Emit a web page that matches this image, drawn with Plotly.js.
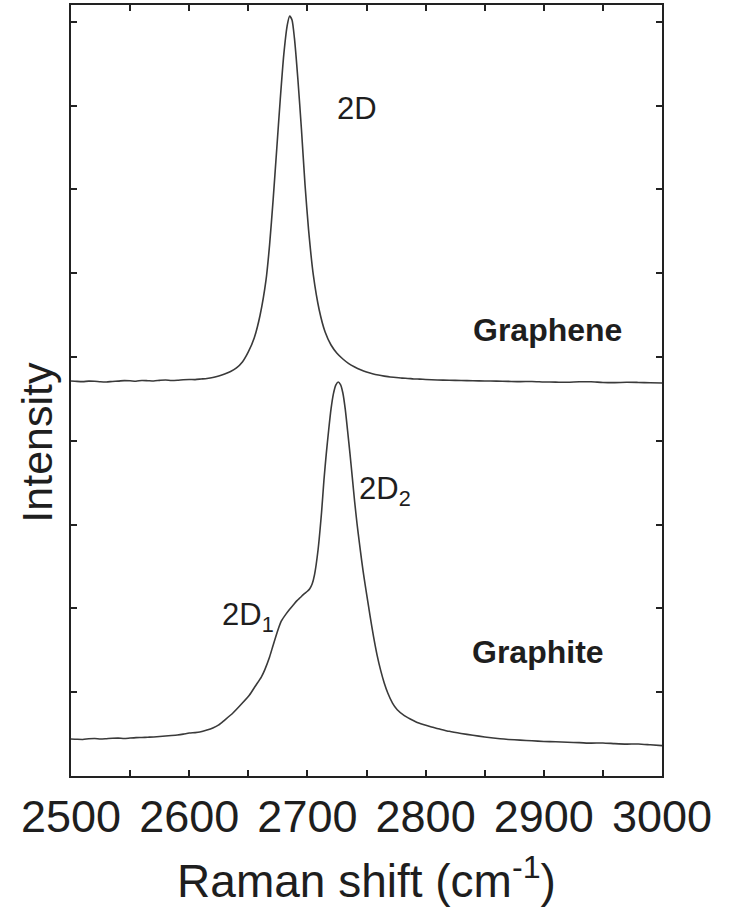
<!DOCTYPE html>
<html>
<head>
<meta charset="utf-8">
<script src="https://cdn.plot.ly/plotly-3.0.1.min.js"></script>
<style>html,body{margin:0;padding:0;background:#fff;}</style>
</head>
<body>
<div id="chart" style="width:729px;height:910px;"></div>
<script>
// Raman shift (cm^-1) and intensity (arbitrary units)
const grapheneX = [2500,2505,2510,2515,2520,2525,2530,2535,2540,2545,2550,2555,2560,2565,2570,2575,2580,2585,2590,2595,2600,2605,2610,2615,2620,2625,2630,2635,2640,2645,2650,2655,2660,2665,2668,2671,2674,2677,2680,2683,2685,2687,2689,2692,2695,2698,2701,2705,2710,2715,2720,2725,2730,2735,2740,2745,2750,2755,2760,2765,2770,2775,2780,2785,2790,2795,2800,2810,2820,2830,2840,2850,2860,2870,2880,2890,2900,2910,2920,2930,2940,2950,2960,2970,2980,2990,3000];
const grapheneY = [4.714,4.709,4.706,4.712,4.710,4.704,4.702,4.708,4.712,4.718,4.716,4.711,4.720,4.717,4.714,4.721,4.726,4.719,4.722,4.728,4.732,4.730,4.737,4.744,4.755,4.772,4.797,4.826,4.869,4.940,5.060,5.227,5.501,5.919,6.337,6.874,7.470,8.067,8.604,8.962,9.069,9.021,8.807,8.305,7.709,7.053,6.516,5.979,5.561,5.298,5.143,5.045,4.976,4.921,4.881,4.848,4.821,4.801,4.785,4.772,4.761,4.756,4.748,4.744,4.738,4.736,4.732,4.726,4.722,4.719,4.716,4.713,4.712,4.709,4.706,4.708,4.702,4.700,4.698,4.704,4.704,4.696,4.694,4.698,4.696,4.693,4.690];

const graphiteX = [2500,2505,2510,2515,2520,2525,2530,2535,2540,2545,2550,2555,2560,2565,2570,2575,2580,2585,2590,2595,2600,2605,2609,2615,2620,2625,2630,2637,2645,2651,2656,2661,2664,2668,2671,2675,2678,2682,2685,2688,2691,2694,2697,2700,2702,2704,2706,2709,2712,2714,2716,2718,2720,2722,2724,2726,2728,2730,2732,2734,2736,2738,2740,2742,2744,2746,2748,2750,2753,2756,2759,2762,2765,2768,2772,2776,2782,2787,2792,2798,2805,2812,2820,2830,2840,2850,2863,2870,2880,2890,2900,2910,2920,2930,2940,2950,2960,2970,2980,2990,3000];
const graphiteY = [0.442,0.438,0.436,0.444,0.448,0.441,0.445,0.450,0.452,0.447,0.453,0.458,0.460,0.463,0.466,0.471,0.477,0.483,0.490,0.500,0.513,0.518,0.525,0.548,0.573,0.610,0.668,0.752,0.871,0.967,1.074,1.181,1.270,1.420,1.560,1.740,1.850,1.935,1.990,2.040,2.090,2.130,2.170,2.205,2.235,2.290,2.400,2.697,3.150,3.532,3.850,4.129,4.380,4.560,4.665,4.702,4.670,4.570,4.380,4.120,3.850,3.560,3.270,3.010,2.780,2.560,2.360,2.180,1.910,1.660,1.440,1.260,1.110,0.990,0.870,0.790,0.720,0.680,0.645,0.615,0.585,0.560,0.533,0.508,0.486,0.466,0.444,0.436,0.428,0.420,0.412,0.408,0.402,0.398,0.392,0.394,0.386,0.380,0.382,0.372,0.362];

const xTickVals = [2500,2600,2700,2800,2900,3000];
const xTickText = ['2500','2600','2700','2800','2900','3000'];

const labelFont = 'Liberation Sans, Arial, sans-serif';
const ink = '#1e1e1e';

const traces = [
  {x: grapheneX, y: grapheneY, type: 'scatter', mode: 'lines', name: 'Graphene',
   line: {color: '#3a3a3a', width: 1.6, shape: 'spline', smoothing: 0.6}, hoverinfo: 'x+y'},
  {x: graphiteX, y: graphiteY, type: 'scatter', mode: 'lines', name: 'Graphite',
   line: {color: '#3a3a3a', width: 1.6, shape: 'spline', smoothing: 0.6}, hoverinfo: 'x+y'}
];

const layout = {
  width: 729, height: 910,
  margin: {l: 71, r: 67, t: 5, b: 134},
  paper_bgcolor: '#ffffff', plot_bgcolor: '#ffffff',
  showlegend: false,
  font: {family: labelFont, color: ink},
  xaxis: {
    range: [2500, 3000], showgrid: false, zeroline: false,
    showline: true, linecolor: '#222', linewidth: 2, mirror: 'ticks',
    ticks: 'inside', ticklen: 6, tickwidth: 2, tickcolor: '#222',
    tickmode: 'array', tickvals: xTickVals, ticktext: xTickText,
    minor: {dtick: 50, tick0: 2500, ticks: 'inside', ticklen: 6, tickwidth: 2, tickcolor: '#222', showgrid: false},
    tickfont: {size: 45, family: labelFont, color: ink},
    title: {text: 'Raman shift (cm<sup>-1</sup>)', font: {size: 46, family: labelFont, color: ink}, standoff: 24}
  },
  yaxis: {
    range: [0, 9.2], showgrid: false, zeroline: false,
    showline: true, linecolor: '#222', linewidth: 2, mirror: 'ticks',
    ticks: 'inside', ticklen: 6, tickwidth: 2, tickcolor: '#222',
    dtick: 1, tick0: 0, showticklabels: false
  },
  annotations: [
    {xref: 'paper', yref: 'paper', x: -0.0567, y: 0.433, xanchor: 'center', yanchor: 'middle',
     textangle: -90, text: 'Intensity', showarrow: false, font: {size: 43, family: labelFont, color: ink}},
    {x: 2742, y: 7.96, text: '2D', showarrow: false, font: {size: 31, family: labelFont, color: ink}},
    {x: 2903, y: 5.32, text: '<b>Graphene</b>', showarrow: false, font: {size: 32, family: labelFont, color: ink}},
    {x: 2766, y: 3.40, text: '2D<sub>2</sub>', showarrow: false, font: {size: 31, family: labelFont, color: ink}},
    {x: 2650, y: 1.90, text: '2D<sub>1</sub>', showarrow: false, font: {size: 31, family: labelFont, color: ink}},
    {x: 2895, y: 1.48, text: '<b>Graphite</b>', showarrow: false, font: {size: 32, family: labelFont, color: ink}}
  ]
};

Plotly.newPlot('chart', traces, layout, {displayModeBar: false, staticPlot: true});
</script>
</body>
</html>
